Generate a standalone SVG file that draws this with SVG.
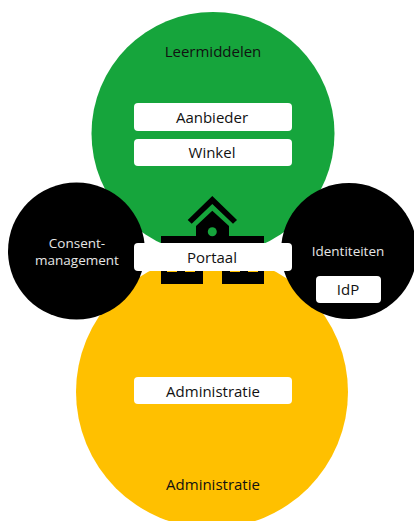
<svg xmlns="http://www.w3.org/2000/svg" width="414" height="521" viewBox="0 0 414 521">
<style>
text{font-family:"Open Sans","Noto Sans","Liberation Sans",sans-serif;font-size:15px;text-anchor:middle;fill:#111}
.w{fill:#fff}
.b{fill:#000}
.y{fill:#ffc000}
.lt{fill:#e6e6e6;font-size:13.5px}
</style>
<rect width="414" height="521" fill="#fff"/>
<g id="leermiddelen"><circle cx="213" cy="133.5" r="121.5" fill="#16a53c"/><text x="213" y="57">Leermiddelen</text></g>
<g id="administratie"><circle cx="212" cy="392" r="136" class="y"/><text x="213" y="490">Administratie</text></g>
<g id="consent"><circle cx="76.5" cy="251" r="68.5" class="b"/><text class="lt" x="77" y="248">Consent-</text><text class="lt" x="77" y="265">management</text></g>
<g id="identiteiten"><circle cx="349" cy="251" r="68" class="b"/><text class="lt" x="348" y="256">Identiteiten</text></g>
<g id="portaal-icon">
<path class="b" d="M187.7 220 L212.3 196 L237 220 L233 223.7 L212.3 204 L191.7 223.7Z"/>
<path class="b" d="M196 236V226L212.3 210.7L229 226V236H264V284H222V250H203V284H161V236Z"/>
<circle cx="212.3" cy="231.7" r="4.5" fill="#16a53c"/>
<path class="y" d="M167 262h10v10h-10zM185 262h10v10h-10zM230 262h10v10h-10zM248 262h10v10h-10z"/>
</g>
<g id="aanbieder"><rect class="w" x="134" y="103" width="158" height="28" rx="4"/><text x="212" y="123">Aanbieder</text></g>
<g id="winkel"><rect class="w" x="134" y="139" width="158" height="27" rx="4"/><text x="212" y="158">Winkel</text></g>
<g id="portaal"><rect class="w" x="134" y="243" width="158" height="28" rx="4"/><text x="212" y="263">Portaal</text></g>
<g id="idp"><rect class="w" x="316" y="276" width="65" height="27" rx="4"/><text x="348" y="295">IdP</text></g>
<g id="administratie-box"><rect class="w" x="134" y="377" width="158" height="27" rx="4"/><text x="213" y="397">Administratie</text></g>
<g id="connectors"></g>
</svg>
